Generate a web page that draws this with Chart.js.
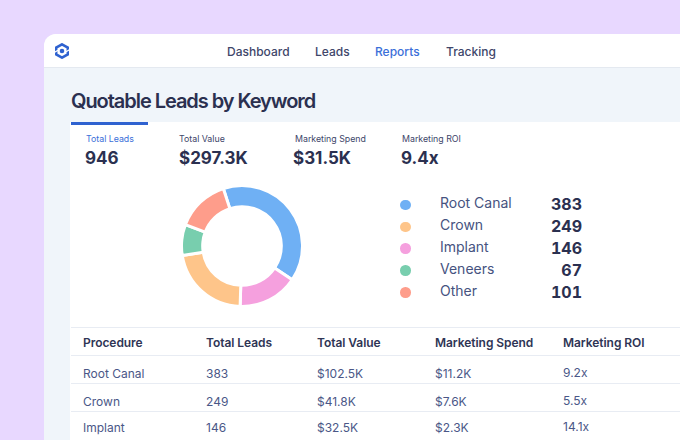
<!DOCTYPE html>
<html><head><meta charset="utf-8">
<script src="https://cdn.jsdelivr.net/npm/chart.js@4/dist/chart.umd.min.js"></script>
<style>
html,body{margin:0;padding:0;width:680px;height:440px;overflow:hidden;background:#e8d8ff;font-family:Inter,"Noto Sans",sans-serif;-webkit-font-smoothing:antialiased}
.a{position:absolute;white-space:nowrap;line-height:1}
#card{position:absolute;left:44px;top:34px;width:700px;height:440px;background:#f0f5fa;border-radius:12px 0 0 0;overflow:hidden}
#nav{position:absolute;left:44px;top:34px;width:636px;height:33px;background:#fff;border-bottom:1px solid #e4e9f0;border-radius:12px 0 0 0}
#panel{position:absolute;left:70px;top:122px;width:610px;height:318px;background:#fff}
#tab{position:absolute;left:71px;top:122px;width:77px;height:3px;background:#2f62d0}
#wrap{position:absolute;left:180px;top:184px;width:124px;height:124px}
.rule{position:absolute;left:71px;width:609px;height:1px;background:#e8ecf3}
.nav{font-size:12px;font-weight:500;color:#40466a;top:46px}
.lab{font-size:8.8px;color:#40466a;top:135px}
.big{font-size:17px;font-weight:700;color:#2b3050;top:150px}
.leg{font-size:14px;color:#46537f;}
.num{font-size:16px;font-weight:700;color:#2b3050;width:60px;text-align:right;left:522px;font-variant-numeric:tabular-nums}
.dot{position:absolute;width:10.5px;height:10.5px;border-radius:50%;left:400px}
.th{font-size:12px;font-weight:600;color:#2f3555;top:337px;letter-spacing:-.05px}
.td{font-size:12px;color:#4a5787}
</style></head><body>
<div id="card"></div><div id="nav"></div><div id="panel"></div><div id="tab"></div>
<svg style="position:absolute;left:55px;top:43px" width="14" height="16" viewBox="0 0 14 16"><path d="M7 1.300 12.800 4.600V11.400L7 14.700 1.200 11.400V4.600z" fill="none" stroke="#2f62d0" stroke-width="2.500"/><path d="M-1 9.500 3 7.300M15 6.500 11 8.700" stroke="#fff" stroke-width="1.300"/><circle cx="7" cy="8" r="2.300" fill="#2f62d0"/></svg>
<div class="a" style="left:71px;top:91px;font-size:20px;font-weight:600;letter-spacing:-1.05px;color:#2b3050">Quotable Leads by Keyword</div>
<div id="wrap"><canvas id="c"></canvas></div>
<div id="dyn"></div>
<script>
const navItems=["Dashboard","Leads","Reports","Tracking"];
const statLabels=["Total Leads","Total Value","Marketing Spend","Marketing ROI"];
const statValues=["946","$297.3K","$31.5K","9.4x"];
const categories=["Root Canal","Crown","Implant","Veneers","Other"];
const leads=[383,249,146,67,101];
const colors=["#6fb0f4","#fec58a","#f5a0de","#78ceae","#fe9d8b"];
const sliceLabels=["Root Canal","Implant","Crown","Veneers","Other"];
const sliceValues=[373,152,208,78,135];
const sliceColors=["#6fb0f4","#f5a0de","#fec58a","#78ceae","#fe9d8b"];
const tableHead=["Procedure","Total Leads","Total Value","Marketing Spend","Marketing ROI"];
const tableProcedures=["Root Canal","Crown","Implant"];
const tableLeads=["383","249","146"];
const tableValue=["$102.5K","$41.8K","$32.5K"];
const tableSpend=["$11.2K","$7.6K","$2.3K"];
const tableRoi=["9.2x","5.5x","14.1x"];

const dyn=document.getElementById('dyn');
function add(cls,text,style){const d=document.createElement('div');d.className=cls;if(text!==null)d.textContent=text;d.style.cssText=style||'';dyn.appendChild(d);return d;}
const navX=[227,315,375,446];
navItems.forEach((t,i)=>add('a nav',t,`left:${navX[i]}px;${i==2?'color:#3b6fd9':''}`));
const statX=[86,179,295,402],bigX=[85,179,293,401];
statLabels.forEach((t,i)=>add('a lab',t,`left:${statX[i]}px;${i==0?'color:#3b6fd9':''}`));
statValues.forEach((t,i)=>add('a big',t,`left:${bigX[i]}px`));
const rowY=[204,226,248,270,292];
const dotY=[205,227,248.5,270.5,292.5];
categories.forEach((t,i)=>{
  add('dot',null,`top:${dotY[i]-5.25}px;background:${colors[i]}`);
  add('a leg',t,`left:440px;top:${rowY[i]-8}px`);
  add('a num',String(leads[i]),`top:${rowY[i]-8}px`);
});
[327,355,383,411].forEach(y=>add('rule',null,`top:${y}px`));
const colX=[83,206,317,435,563];
tableHead.forEach((t,i)=>add('a th',t,`left:${colX[i]}px`));
const tops=[368,396,422];
[tableProcedures,tableLeads,tableValue,tableSpend,tableRoi].forEach((col,i)=>col.forEach((t,r)=>add('a td',t,`left:${colX[i]}px;top:${tops[r]-(i==4?1:0)}px`)));

new Chart(document.getElementById('c'),{type:'doughnut',
  data:{labels:sliceLabels,datasets:[{data:sliceValues,backgroundColor:sliceColors,borderColor:'#fff',borderWidth:3}]},
  options:{responsive:true,maintainAspectRatio:true,animation:false,cutout:'65%',rotation:-18,
    plugins:{legend:{display:false},tooltip:{enabled:false}},layout:{padding:0}}});
</script></body></html>
